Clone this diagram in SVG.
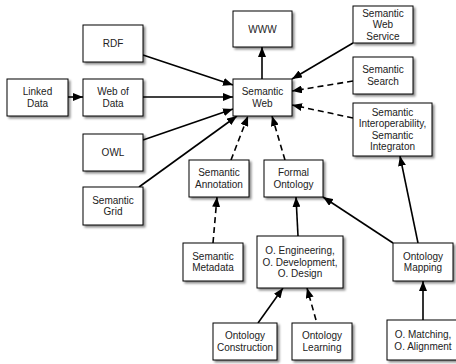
<svg xmlns="http://www.w3.org/2000/svg" width="456" height="364" viewBox="0 0 456 364">
<style>
.box{fill:#fff;stroke:#000;stroke-width:1;filter:url(#sh)}
text{font-family:"Liberation Sans",Arial,sans-serif;font-size:10px;fill:#222;text-anchor:middle}
.c{fill:none;stroke:#000;stroke-width:1.6;marker-end:url(#ah)}
.d{stroke-dasharray:6,4}
</style>
<defs>
<filter id="sh" x="-20%" y="-20%" width="150%" height="150%">
<feDropShadow dx="2" dy="2" stdDeviation="1.3" flood-color="#000" flood-opacity="0.45"/>
</filter>
<marker id="ah" markerUnits="userSpaceOnUse" markerWidth="10" markerHeight="8" refX="10" refY="4" orient="auto">
<path d="M0,0 L10,4 L0,8 z" fill="#000"/>
</marker>
</defs>
<rect width="456" height="364" fill="#fff"/>
<g id="connectors">
<path class="c" d="M68,97 L83,97"/>
<path class="c" d="M143,55 L233,85"/>
<path class="c" d="M143,97 L233,97"/>
<path class="c" d="M143,140 L233,109"/>
<path class="c" d="M139,187 L237,116"/>
<path class="c" d="M262,79 L262,47"/>
<path class="c" d="M353,43 L292,79"/>
<path class="c d" d="M353,81 L292,91"/>
<path class="c d" d="M353,118 L292,105"/>
<path class="c d" d="M231,160 L248,116"/>
<path class="c d" d="M285,160 L272,116"/>
<path class="c d" d="M213,243 L217,197"/>
<path class="c" d="M298,236 L296,197"/>
<path class="c" d="M393,243 L323,197"/>
<path class="c" d="M418,243 L400,156"/>
<path class="c" d="M423,320 L423,281"/>
<path class="c" d="M258,323 L283,288"/>
<path class="c d" d="M316,320 L307,288"/>
</g>
<g id="rdf"><rect class="box" x="83" y="25" width="60" height="37"/><text x="113" y="47">RDF</text></g>
<g id="linked-data"><rect class="box" x="7" y="79" width="61" height="37"/><text x="37.5" y="95">Linked</text><text x="37.5" y="106.5">Data</text></g>
<g id="web-of-data"><rect class="box" x="83" y="79" width="60" height="37"/><text x="113" y="95">Web of</text><text x="113" y="106.5">Data</text></g>
<g id="owl"><rect class="box" x="83" y="134" width="60" height="37"/><text x="113" y="156">OWL</text></g>
<g id="semantic-grid"><rect class="box" x="83" y="187" width="60" height="38"/><text x="113" y="203.5">Semantic</text><text x="113" y="215">Grid</text></g>
<g id="www"><rect class="box" x="233" y="11" width="59" height="36"/><text x="262.5" y="32.5">WWW</text></g>
<g id="semantic-web"><rect class="box" x="233" y="79" width="59" height="37"/><text x="262.5" y="95">Semantic</text><text x="262.5" y="106.5">Web</text></g>
<g id="semantic-web-service"><rect class="box" x="353" y="6" width="60" height="37"/><text x="383" y="16.5">Semantic</text><text x="383" y="28">Web</text><text x="383" y="39.5">Service</text></g>
<g id="semantic-search"><rect class="box" x="353" y="57" width="60" height="37"/><text x="383" y="73">Semantic</text><text x="383" y="84.5">Search</text></g>
<g id="semantic-interop"><rect class="box" x="353" y="103" width="79" height="53"/><text x="392.5" y="115.5">Semantic</text><text x="392.5" y="127">Interoperability,</text><text x="392.5" y="138.5">Semantic</text><text x="392.5" y="150">Integraton</text></g>
<g id="semantic-annotation"><rect class="box" x="189" y="160" width="60" height="37"/><text x="219" y="176">Semantic</text><text x="219" y="187.5">Annotation</text></g>
<g id="formal-ontology"><rect class="box" x="264" y="160" width="59" height="37"/><text x="293.5" y="176">Formal</text><text x="293.5" y="187.5">Ontology</text></g>
<g id="semantic-metadata"><rect class="box" x="183" y="243" width="60" height="38"/><text x="213" y="259.5">Semantic</text><text x="213" y="271">Metadata</text></g>
<g id="o-engineering"><rect class="box" x="257" y="236" width="86" height="52"/><text x="300" y="254">O. Engineering,</text><text x="300" y="265.5">O. Development,</text><text x="300" y="277">O. Design</text></g>
<g id="ontology-mapping"><rect class="box" x="393" y="243" width="60" height="38"/><text x="423" y="259.5">Ontology</text><text x="423" y="271">Mapping</text></g>
<g id="ontology-construction"><rect class="box" x="213" y="323" width="64" height="37"/><text x="245" y="339">Ontology</text><text x="245" y="350.5">Construction</text></g>
<g id="ontology-learning"><rect class="box" x="292" y="323" width="60" height="37"/><text x="322" y="339">Ontology</text><text x="322" y="350.5">Learning</text></g>
<g id="o-matching"><rect class="box" x="387" y="320" width="72" height="40"/><text x="423" y="338">O. Matching,</text><text x="423" y="349.5">O. Alignment</text></g>
</svg>
